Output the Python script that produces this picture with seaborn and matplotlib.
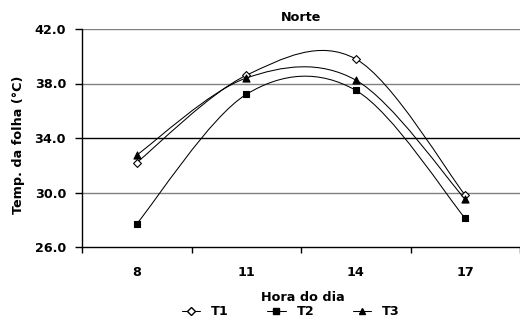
import numpy as np
import pandas as pd
import seaborn as sns
import matplotlib
matplotlib.use('Agg')
import matplotlib.pyplot as plt
from matplotlib.path import Path
from matplotlib.patches import PathPatch
from matplotlib.lines import Line2D

# data
horas = ['8', '11', '14', '17']
t1 = [32.2, 38.6, 39.8, 29.8]
t2 = [27.7, 37.2, 37.5, 28.1]
t3 = [32.75, 38.4, 38.25, 29.5]
series = ['T1', 'T2', 'T3']
yticks = [26.0, 30.0, 34.0, 38.0, 42.0]

df = pd.DataFrame({
    'pos': list(range(len(horas))) * 3,
    'temp': t1 + t2 + t3,
    'serie': [s for s in series for _ in horas],
})

sns.set_style('white')
plt.rcParams['font.family'] = ['DejaVu Sans']
plt.rcParams['font.weight'] = 'bold'
for k in ['text.color', 'axes.labelcolor', 'xtick.color', 'ytick.color']:
    plt.rcParams[k] = 'black'
FS = 9.2

fig = plt.figure(figsize=(5.2, 3.31), dpi=100)
ax = fig.add_axes([82 / 520, 84 / 331, 438 / 520, 218 / 331])

styles = {
    'T1': dict(marker='D', color='white', s=16),
    'T2': dict(marker='s', color='black', s=16),
    'T3': dict(marker='^', color='black', s=26),
}


def smooth_path(xs, ys):
    # excel-like smoothed line (catmull-rom as cubic bezier)
    pts = np.column_stack([xs, ys]).astype(float)
    n = len(pts)
    verts = [pts[0]]
    codes = [Path.MOVETO]
    for i in range(n - 1):
        p0 = pts[max(i - 1, 0)]
        p1 = pts[i]
        p2 = pts[i + 1]
        p3 = pts[min(i + 2, n - 1)]
        verts += [p1 + (p2 - p0) / 6, p2 - (p3 - p1) / 6, p2]
        codes += [Path.CURVE4] * 3
    return Path(verts, codes)


for s in series:
    d = df[df['serie'] == s]
    ax.add_patch(PathPatch(smooth_path(d['pos'], d['temp']), fill=False,
                           edgecolor='black', lw=0.75, zorder=2))
    st = styles[s]
    sns.scatterplot(data=d, x='pos', y='temp', ax=ax, marker=st['marker'],
                    color=st['color'], edgecolor='black', s=st['s'],
                    linewidth=0.8, zorder=3, legend=False)

ax.set_xlim(-0.5, len(horas) - 0.5)
ax.set_ylim(26, 42)
ax.set_yticks(yticks)
ax.set_yticklabels([f'{v:.1f}' for v in yticks])
for v in yticks[1:]:
    ax.axhline(v, color='black' if v == 34.0 else '#808080', lw=1, zorder=1)

ax.set_xticks(range(len(horas)))
ax.set_xticklabels(horas)
ax.set_xticks(np.arange(-0.5, len(horas), 1.0), minor=True)
ax.tick_params(axis='x', which='major', length=0, pad=14, labelsize=FS,
               labelcolor='black')
ax.tick_params(axis='x', which='minor', length=4, width=1, color='black',
               direction='out', bottom=True)
ax.tick_params(axis='y', length=5, width=1, color='black', direction='out',
               left=True, pad=6.5, labelsize=FS, labelcolor='black')

sns.despine(ax=ax, top=True, right=True)
for sp in ['left', 'bottom']:
    ax.spines[sp].set_color('black')
    ax.spines[sp].set_linewidth(1)

ax.set_title('Norte', fontsize=FS, fontweight='bold', pad=6, color='black')
ax.set_xlabel('Hora do dia', fontsize=FS, fontweight='bold', color='black')
ax.set_ylabel('Temp. da folha (°C)', fontsize=FS, fontweight='bold', color='black')
ax.xaxis.set_label_coords(0.504, -0.2)
ax.yaxis.set_label_coords(-0.13, 0.47)

handles = [
    Line2D([], [], color='black', lw=0.75, marker='D', mfc='white', mec='black', ms=4),
    Line2D([], [], color='black', lw=0.75, marker='s', mfc='black', mec='black', ms=4),
    Line2D([], [], color='black', lw=0.75, marker='^', mfc='black', mec='black', ms=5),
]
fig.legend(handles, series, loc='center', bbox_to_anchor=(290.8 / 520, 1 - 311.7 / 331),
           ncol=3, frameon=False, fontsize=FS, handlelength=1.45,
           handletextpad=0.85, columnspacing=3.0, borderpad=0, borderaxespad=0,
           labelcolor='black')

fig.savefig('out.png', dpi=100)
